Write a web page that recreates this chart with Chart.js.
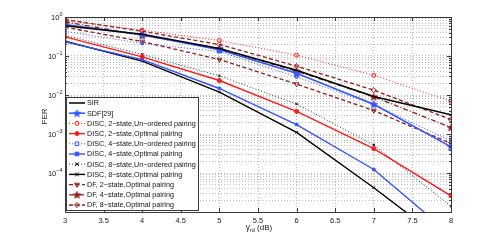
<!DOCTYPE html>
<html><head><meta charset="utf-8">
<script src="https://cdn.jsdelivr.net/npm/chart.js@4/dist/chart.umd.min.js"></script>
<style>html,body{margin:0;padding:0;background:#fff}#wrap{width:498px;height:240px;position:relative}</style>
</head><body><div id="wrap"><canvas id="c" width="498" height="240"></canvas></div>
<script>
// ---- data ----
const gammaRd = [3, 4, 5, 6, 7, 8];
const xTickValues = [3, 3.5, 4, 4.5, 5, 5.5, 6, 6.5, 7, 7.5, 8];
const yDecadeExponents = [0, -1, -2, -3, -4];
const seriesNames = [
  'SIR', 'SDF[29]',
  'DISC, 2\u2212state,Un\u2212ordered pairing', 'DISC, 2\u2212state,Optimal pairing',
  'DISC, 4\u2212state,Un\u2212ordered pairing', 'DISC, 4\u2212state,Optimal pairing',
  'DISC, 8\u2212state,Un\u2212ordered pairing', 'DISC, 8\u2212state,Optimal pairing',
  'DF, 2\u2212state,Optimal pairing', 'DF, 4\u2212state,Optimal pairing', 'DF, 8\u2212state,Optimal pairing'
];
const sir      = [0.60, 0.36, 0.155, 0.043, 0.0092, 0.0031];
const sdf      = [0.64, 0.35, 0.145, 0.036, 0.0058, 0.00047];
const disc2Un  = [0.82, 0.46, 0.25, 0.105, 0.032, 0.0069];
const disc2Opt = [0.31, 0.095, 0.0235, 0.0038, 0.00042, 0.000026];
const disc4Un  = [0.43, 0.21, 0.13, 0.029, 0.0057, 0.00066];
const disc4Opt = [0.23, 0.081, 0.0147, 0.00175, 0.000123, 0.0000026];
const disc8Un  = [0.34, 0.11, 0.031, 0.0059, 0.00052, 0.000014];
const disc8Opt = [0.24, 0.074, 0.0118, 0.0011, 0.000042, 0.0000013];
const df2      = [0.55, 0.235, 0.081, 0.019, 0.004, 0.00057];
const df4      = [0.75, 0.34, 0.155, 0.041, 0.009, 0.00147];
const df8      = [0.86, 0.43, 0.197, 0.055, 0.0133, 0.00235];

// ---- styles ----
const FONT = 'Liberation Sans, Arial, Helvetica, sans-serif';
const RED = '#ff1a1a', BLUE = '#3355ff', BLACK = '#000000', DRED = '#921c16';
const DOT = [1, 2], DASH = [4, 2.5], DASHDOT = [5, 2, 1, 2];

function pentagram(color, fill) {
  const s = 9, c = document.createElement('canvas');
  c.width = s; c.height = s;
  const g = c.getContext('2d');
  g.beginPath();
  for (let i = 0; i < 10; i++) {
    const r = i % 2 === 0 ? 3.9 : 1.6;
    const a = -Math.PI / 2 + i * Math.PI / 5;
    const px = s / 2 + r * Math.cos(a), py = s / 2 + 0.4 + r * Math.sin(a);
    i === 0 ? g.moveTo(px, py) : g.lineTo(px, py);
  }
  g.closePath();
  g.fillStyle = fill; g.fill();
  g.strokeStyle = color; g.lineWidth = 0.8; g.stroke();
  return c;
}
const starBlue = pentagram(BLUE, BLUE);
const starDred = pentagram(DRED, DRED);

function ds(i, data, color, dash, width, style, radius, filled, rot) {
  return {
    label: seriesNames[i], data: data,
    borderColor: color, borderWidth: width, borderDash: dash,
    pointStyle: style, pointRadius: radius, pointHoverRadius: radius,
    pointRotation: rot || 0,
    pointBorderColor: color, pointBorderWidth: 1,
    pointBackgroundColor: filled ? color : 'rgba(255,255,255,0)',
    fill: false, tension: 0
  };
}

const datasets = [
  ds(0, sir, BLACK, [], 1.5, false, 0, false),
  ds(1, sdf, BLUE, [], 1.5, starBlue, 3.5, true),
  ds(2, disc2Un, RED, DOT, 1, 'circle', 2, false),
  ds(3, disc2Opt, RED, [], 1.4, 'circle', 2, true),
  ds(4, disc4Un, BLUE, DOT, 1, 'rect', 1.8, false),
  ds(5, disc4Opt, BLUE, [], 1.4, 'rect', 1.8, true),
  ds(6, disc8Un, BLACK, DOT, 0.8, 'crossRot', 1.8, false),
  ds(7, disc8Opt, BLACK, [], 1.4, 'crossRot', 1.8, false),
  ds(8, df2, DRED, DASH, 1.3, 'triangle', 2.7, false, 180),
  ds(9, df4, DRED, DASHDOT, 1.3, starDred, 3.5, true),
  ds(10, df8, DRED, DASH, 1.3, 'rectRot', 2.6, false)
];
datasets.forEach(d => { d.data = d.data.map((v, k) => ({x: gammaRd[k], y: v})); });

function drawMarker(ctx, d, x, y) {
  const st = d.pointStyle, r = d.pointRadius;
  if (!st || r === 0) return;
  ctx.save();
  ctx.setLineDash([]);
  ctx.strokeStyle = d.pointBorderColor; ctx.fillStyle = d.pointBackgroundColor;
  ctx.lineWidth = d.pointBorderWidth;
  if (typeof st !== 'string') { ctx.drawImage(st, x - st.width / 2, y - st.height / 2); ctx.restore(); return; }
  ctx.beginPath();
  if (st === 'circle') { ctx.arc(x, y, r, 0, Math.PI * 2); ctx.fill(); ctx.stroke(); }
  else if (st === 'rect') { ctx.rect(x - r, y - r, 2 * r, 2 * r); ctx.fill(); ctx.stroke(); }
  else if (st === 'rectRot') { ctx.moveTo(x, y - r); ctx.lineTo(x + r, y); ctx.lineTo(x, y + r); ctx.lineTo(x - r, y); ctx.closePath(); ctx.fill(); ctx.stroke(); }
  else if (st === 'triangle') { ctx.moveTo(x - r * 0.87, y - r * 0.5); ctx.lineTo(x + r * 0.87, y - r * 0.5); ctx.lineTo(x, y + r); ctx.closePath(); ctx.fill(); ctx.stroke(); }
  else if (st === 'crossRot') { ctx.moveTo(x - r, y - r); ctx.lineTo(x + r, y + r); ctx.moveTo(x + r, y - r); ctx.lineTo(x - r, y + r); ctx.stroke(); }
  ctx.restore();
}

const decorPlugin = {
  id: 'decor',
  afterDatasetsDraw(chart) {
    const ctx = chart.ctx, a = chart.chartArea;
    const xs = chart.scales.x, ys = chart.scales.y;
    ctx.save();
    // ticks inward
    ctx.strokeStyle = '#3a3a3a'; ctx.lineWidth = 1; ctx.setLineDash([]);
    ctx.beginPath();
    xTickValues.forEach(v => {
      const px = Math.round(xs.getPixelForValue(v)) + 0.5;
      ctx.moveTo(px, a.bottom); ctx.lineTo(px, a.bottom - 4);
      ctx.moveTo(px, a.top); ctx.lineTo(px, a.top + 4);
    });
    ys.ticks.forEach(t => {
      const py = Math.round(ys.getPixelForValue(t.value)) + 0.5;
      const major = Math.abs(Math.log10(t.value) - Math.round(Math.log10(t.value))) < 1e-9;
      const L = major ? 4 : 2;
      ctx.moveTo(a.left, py); ctx.lineTo(a.left + L, py);
      ctx.moveTo(a.right, py); ctx.lineTo(a.right - L, py);
    });
    ctx.stroke();
    // box
    ctx.strokeRect(Math.round(a.left) + 0.5, Math.round(a.top) + 0.5, Math.round(a.right - a.left), Math.round(a.bottom - a.top));
    // y tick labels 10^k
    ctx.fillStyle = '#1a1a1a';
    yDecadeExponents.forEach(k => {
      const py = ys.getPixelForValue(Math.pow(10, k));
      const base = '10', ex = k === 0 ? '0' : '\u2212' + Math.abs(k);
      ctx.font = '7.5px ' + FONT;
      const wb = ctx.measureText(base).width;
      ctx.font = '5.5px ' + FONT;
      const we = ctx.measureText(ex).width;
      const right = a.left - 2.5;
      ctx.textBaseline = 'middle'; ctx.textAlign = 'left';
      ctx.font = '7.5px ' + FONT;
      ctx.fillText(base, right - we - wb, py + 1);
      ctx.font = '5.5px ' + FONT;
      ctx.fillText(ex, right - we, py - 3);
    });
    // axis titles
    ctx.font = '8px ' + FONT;
    ctx.textAlign = 'center'; ctx.textBaseline = 'middle';
    ctx.save();
    ctx.translate(45, (a.top + a.bottom) / 2 + 2);
    ctx.rotate(-Math.PI / 2);
    ctx.fillText('FER', 0, 0);
    ctx.restore();
    ctx.textAlign = 'left';
    const g = '\u03b3', sub = 'rd', rest = ' (dB)';
    ctx.font = '8.5px ' + FONT; const wg = ctx.measureText(g).width;
    ctx.font = '5.5px ' + FONT; const ws = ctx.measureText(sub).width;
    ctx.font = '8px ' + FONT; const wr = ctx.measureText(rest).width;
    let tx = (a.left + a.right) / 2 - (wg + ws + wr) / 2 + 1;
    const ty = 228;
    ctx.font = '8.5px ' + FONT; ctx.fillText(g, tx, ty); tx += wg;
    ctx.font = '5.5px ' + FONT; ctx.fillText(sub, tx, ty + 2.5); tx += ws;
    ctx.font = '8px ' + FONT; ctx.fillText(rest, tx, ty);
    // legend box
    const lx = 66.5, ly = 97.5, lw = 132, lh = 113;
    ctx.fillStyle = '#ffffff'; ctx.fillRect(lx, ly, lw, lh);
    ctx.strokeStyle = '#3a3a3a'; ctx.lineWidth = 1; ctx.strokeRect(lx, ly, lw, lh);
    chart.data.datasets.forEach((d, i) => {
      const yy = 103 + i * 10.2;
      ctx.save();
      ctx.strokeStyle = d.borderColor; ctx.lineWidth = d.borderWidth;
      ctx.setLineDash(d.borderDash || []);
      ctx.beginPath(); ctx.moveTo(69, yy); ctx.lineTo(85, yy); ctx.stroke();
      ctx.restore();
      drawMarker(ctx, d, 77, yy);
      ctx.fillStyle = '#111'; ctx.font = '7.2px ' + FONT;
      ctx.textAlign = 'left'; ctx.textBaseline = 'middle';
      ctx.fillText(d.label, 87, yy + 0.5);
    });
    ctx.restore();
  }
};

const gridDash = [1, 2];
new Chart(document.getElementById('c'), {
  type: 'line',
  data: { datasets: datasets },
  plugins: [decorPlugin],
  options: {
    responsive: false, animation: false, devicePixelRatio: 1,
    layout: { padding: { left: 0, right: 47, top: 17, bottom: 0 } },
    plugins: { legend: { display: false }, tooltip: { enabled: false }, title: { display: false } },
    scales: {
      x: {
        type: 'linear', min: 3, max: 8,
        afterBuildTicks: s => { s.ticks = xTickValues.map(v => ({ value: v })); },
        afterFit: s => { s.height = 28; },
        grid: { color: '#bdbdbd', lineWidth: 1, tickLength: 0, drawTicks: false },
        border: { display: false, dash: gridDash },
        ticks: { color: '#1a1a1a', font: { family: FONT, size: 7.5 }, padding: 4, maxRotation: 0, autoSkip: false,
                 callback: v => String(v) }
      },
      y: {
        type: 'logarithmic', min: 1e-5, max: 1,
        afterBuildTicks: s => {
          const t = [];
          for (let e = -5; e <= 0; e++) for (let m = 1; m <= 9; m++) { const v = m * Math.pow(10, e); if (v <= 1.0000001) t.push({ value: v }); }
          s.ticks = t;
        },
        afterFit: s => { s.width = 65; },
        grid: { color: '#bdbdbd', lineWidth: 1, tickLength: 0, drawTicks: false },
        border: { display: false, dash: gridDash },
        ticks: { display: false }
      }
    }
  }
});
</script>
</body></html>
